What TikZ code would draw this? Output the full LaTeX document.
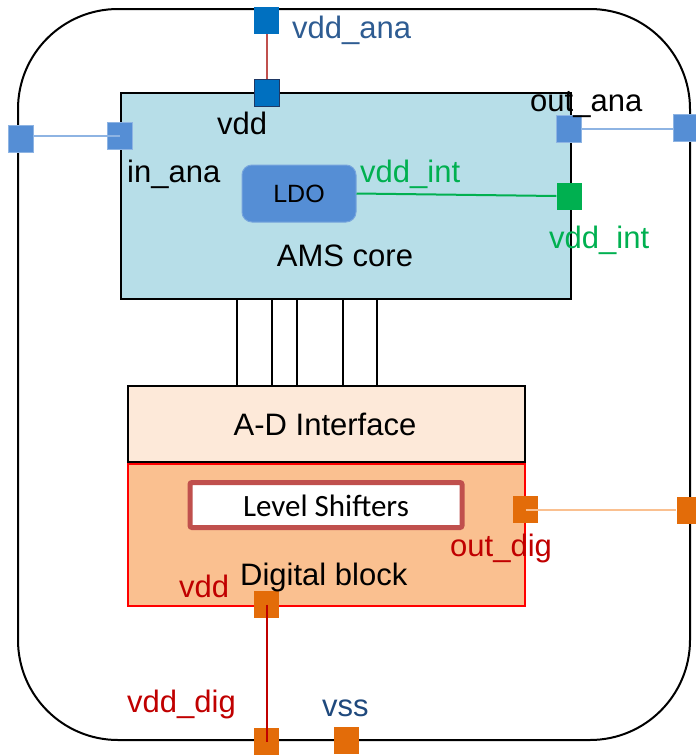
\documentclass[tikz,border=0pt]{standalone}
\usepackage{fontspec}
\setmainfont{Liberation Sans}
\newfontfamily\calibri{Carlito}
\definecolor{amsfill}{HTML}{B7DEE8}
\definecolor{adfill}{HTML}{FDE9D9}
\definecolor{digfill}{HTML}{FAC090}
\definecolor{portblue}{HTML}{0070C0}
\definecolor{portdark}{HTML}{1F3864}
\definecolor{anablue}{HTML}{558ED5}
\definecolor{analine}{HTML}{8EB4E3}
\definecolor{intgreen}{HTML}{00B050}
\definecolor{portorange}{HTML}{E36C09}
\definecolor{digline}{HTML}{FAC090}
\definecolor{redlab}{HTML}{C00000}
\definecolor{pwrline}{HTML}{C0504D}
\definecolor{lsborder}{HTML}{C0504D}
\definecolor{anatext}{HTML}{2E5C92}
\definecolor{vsstext}{HTML}{1F497D}
\tikzset{
  x=1pt, y=-1pt,
  port/.style={rectangle, minimum width=25pt, minimum height=27pt, inner sep=0pt},
  lbl/.style={anchor=base west, inner sep=0pt, font=\fontsize{31}{33}\selectfont},
  blocktext/.style={anchor=base, inner sep=0pt, font=\fontsize{31}{33}\selectfont},
  block/.style={rectangle, inner sep=0pt, anchor=north west},
}
\begin{document}
\begin{tikzpicture}
\useasboundingbox (0,0) rectangle (696,755);
\clip (0,0) rectangle (696,755);

% chip outline
\draw[line width=2pt, rounded corners=100pt] (18,9) rectangle (690,740);

% AMS core block
\node[block, draw=black, line width=2pt, fill=amsfill, minimum width=450pt, minimum height=206pt] (ams) at (120,92) {};
% A-D interface block
\node[block, draw=black, line width=2pt, fill=adfill, minimum width=397pt, minimum height=76pt] (adi) at (127,385) {};
% digital block
\node[block, draw=red, line width=1.5pt, fill=digfill, minimum width=397pt, minimum height=142pt] (dig) at (127,463) {};

% analog/digital bus wires
\foreach \bx in {237,272,297,343,377}
  \draw[line width=1.5pt] (\bx,298) -- (\bx,385);

% LDO and level shifters
\node[rectangle, rounded corners=10pt, fill=anablue, draw=anablue!80!white, line width=1pt,
      minimum width=114pt, minimum height=57pt, inner sep=0pt,
      font=\fontsize{25}{27}\selectfont] (ldo) at (299,193.5) {LDO};
\node[rectangle, rounded corners=2pt, fill=white, draw=lsborder, line width=5pt,
      minimum width=272pt, minimum height=45pt, inner sep=0pt] (ls) at (326,505) {};
\node[anchor=base, inner sep=0pt, font=\calibri\fontsize{31}{33}\selectfont] (lstext) at (326,516) {Level Shifters};

% ports
\node[port, fill=portblue] (pva) at (266.5,20.5) {};
\node[port, fill=portblue, draw=portdark, line width=1pt] (pvd) at (266.5,92.5) {};
\node[port, fill=anablue, draw=analine, line width=1pt] (pinao) at (21,138.5) {};
\node[port, fill=anablue, draw=analine, line width=1pt] (pinai) at (119.5,135.5) {};
\node[port, fill=anablue, draw=analine, line width=1pt] (poutai) at (569,129) {};
\node[port, fill=anablue, draw=analine, line width=1pt] (poutao) at (686,128) {};
\node[port, fill=intgreen] (pvint) at (569,196) {};
\node[port, fill=portorange] (podi) at (525.5,509.5) {};
\node[port, fill=portorange] (podo) at (689,510) {};
\node[port, fill=portorange] (pdd) at (266.5,604.5) {};
\node[port, fill=portorange] (pdig) at (266.5,741.5) {};
\node[port, fill=portorange] (pvss) at (346.5,740.5) {};

% connections
\draw[pwrline, line width=2pt] (pva) -- (pvd);
\draw[analine, line width=2pt] (pinao.east |- pinai.center) -- (pinai.center);
\draw[analine, line width=2pt] (poutai.east) -- (poutao.west |- poutai.east);
\draw[intgreen, line width=2pt] (ldo.east) -- (pvint.west);
\draw[digline, line width=2pt] (podi.center) -- (podo.west |- podi.center);
\draw[redlab, line width=2pt] (pdd.center) -- (pdig.center);

% block titles
\node[blocktext] (tams) at (345,266) {AMS core};
\node[blocktext] (tadi) at (325,435) {A-D Interface};
\node[lbl] (tdig) at (240,585) {Digital block};

% port labels
\node[lbl, text=anatext] (lvdda) at (292,38) {vdd\_ana};
\node[lbl] (lvdd) at (217,134) {vdd};
\node[lbl] (lina) at (127,182) {in\_ana};
\node[lbl] (louta) at (530,111) {out\_ana};
\node[lbl, text=intgreen] (lvint1) at (360,182) {vdd\_int};
\node[lbl, text=intgreen] (lvint2) at (549,248) {vdd\_int};
\node[lbl, text=redlab] (loutd) at (450,556) {out\_dig};
\node[lbl, text=redlab] (lvddd) at (179,597) {vdd};
\node[lbl, text=redlab] (lvdddig) at (127,712) {vdd\_dig};
\node[lbl, text=vsstext] (lvss) at (322,716) {vss};
\end{tikzpicture}
\end{document}
